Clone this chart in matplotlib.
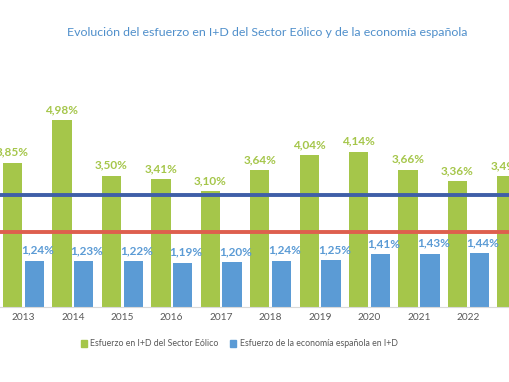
import numpy as np
import matplotlib
matplotlib.use("Agg")
import matplotlib.pyplot as plt
from matplotlib.patches import Patch

years = ["2012", "2013", "2014", "2015", "2016", "2017", "2018", "2019", "2020", "2021", "2022", "2023"]
sector_eolico = [np.nan, 3.85, 4.98, 3.50, 3.41, 3.10, 3.64, 4.04, 4.14, 3.66, 3.36, 3.49]
economia = [1.27, 1.24, 1.23, 1.22, 1.19, 1.20, 1.24, 1.25, 1.41, 1.43, 1.44, np.nan]
ref_blue = 3.0
ref_red = 2.0

title = "Evolución del esfuerzo en I+D del Sector Eólico y de la economía española"
legend_labels = ["Esfuerzo en I+D del Sector Eólico", "Esfuerzo de la economía española en I+D"]

GREEN = "#A5C64A"
BLUE = "#5B9BD5"
LINE_BLUE = "#3F5FA8"
LINE_RED = "#DE5F4E"
GRAY = "#595959"

W, H = 510, 382
fig = plt.figure(figsize=(W / 100, H / 100), dpi=100)
base_px = 307.3
scale = 37.6
ymax = 6.0
ax = fig.add_axes([0, (H - base_px) / H, 1, ymax * scale / H])

x = np.arange(len(years))
bw = 0.39
off = 0.22
ax.bar(x - off, sector_eolico, width=bw, color=GREEN, zorder=2)
ax.bar(x + off, economia, width=bw, color=BLUE, zorder=2)
ax.axhline(ref_blue, color=LINE_BLUE, lw=2.8, zorder=3)
ax.axhline(ref_red, color=LINE_RED, lw=2.8, zorder=3)

fam = ["Lato", "DejaVu Sans"]
for xi, v in zip(x, sector_eolico):
    if not np.isnan(v):
        ax.annotate(f"{v:.2f}%".replace(".", ","), (xi - off, v), xytext=(0, 3.5),
                    textcoords="offset points", ha="center", va="bottom",
                    color=GREEN, fontsize=8.5, fontweight="bold", family=fam, zorder=4)
for xi, v in zip(x, economia):
    if not np.isnan(v):
        ax.annotate(f"{v:.2f}%".replace(".", ","), (xi + off, v), xytext=(2.4, 3.5),
                    textcoords="offset points", ha="center", va="bottom",
                    color=BLUE, fontsize=8.5, fontweight="bold", family=fam, zorder=4)

ax.set_xticks(x)
ax.set_xticklabels(years, fontsize=7.3, color=GRAY, family=fam)
ax.tick_params(axis="x", length=0, pad=4)
ax.set_yticks([])
x0 = 1 - 23.4 / 49.45
x1 = 1 + (W - 23.4) / 49.45
ax.set_xlim(x0, x1)
ax.set_ylim(0, ymax)
for s in ["top", "left", "right"]:
    ax.spines[s].set_visible(False)
ax.spines["bottom"].set_color("#D9D9D9")
ax.spines["bottom"].set_linewidth(0.8)

fig.text(267 / W, 1 - 33 / H, title, ha="center", va="center", fontsize=8.9,
         color="#4F8FCB", family=fam)

handles = [Patch(color=GREEN), Patch(color=BLUE)]
fig.legend(handles, legend_labels, loc="center", bbox_to_anchor=(239 / W, 1 - 344 / H),
           ncol=2, frameon=False, labelcolor=GRAY, handlelength=0.7,
           handleheight=0.7, handletextpad=0.4, columnspacing=1.3,
           prop={"family": fam, "size": 6.3})

fig.savefig("out.png", dpi=100)
